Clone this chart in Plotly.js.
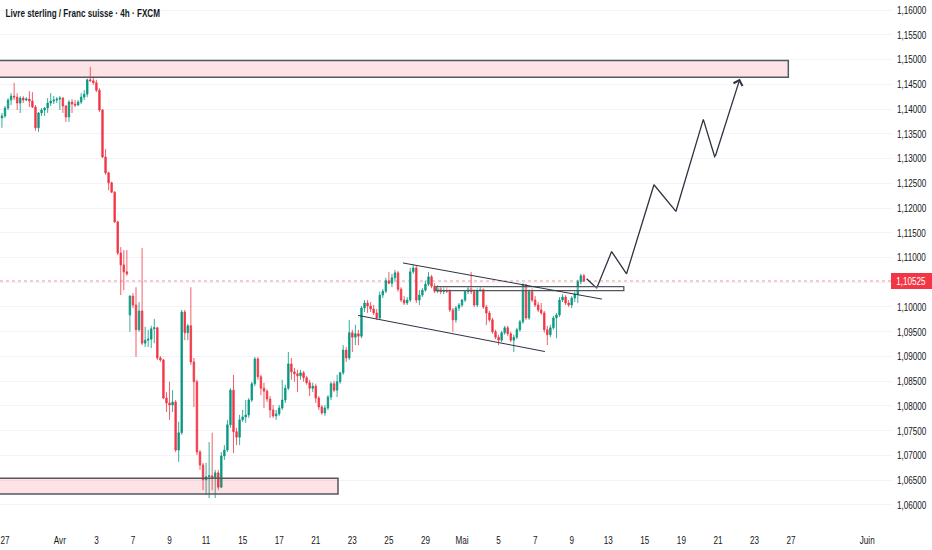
<!DOCTYPE html>
<html>
<head>
<meta charset="utf-8">
<script src="https://cdn.plot.ly/plotly-3.0.1.min.js"></script>
<style>
  html, body { margin: 0; padding: 0; background: #ffffff; }
  #chart { width: 932px; height: 550px; }
</style>
</head>
<body>
<div id="chart"></div>
<script>
// ---- Data (GBP/CHF, 4h candles) ----
const firstIndex = -1;  // candle index of the first (partly visible) bar; 0 = 27 March
const openP = [
  1.1382,1.1386,1.1402,1.1418,1.1426,1.1424,1.1412,1.1422,1.1418,1.1420,
  1.1416,1.1404,1.1362,1.1392,1.1398,1.1402,1.1412,1.1416,1.1418,1.1420,
  1.1422,1.1406,1.1384,1.1414,1.1410,1.1408,1.1414,1.1424,1.1430,1.1459,
  1.1457,1.1453,1.1438,1.1398,1.1303,1.1271,1.1251,1.1232,1.1172,1.1109,
  1.1085,1.1071,1.0984,1.1022,1.1004,1.0954,1.0992,1.0927,1.0933,1.0935,
  1.0956,1.0958,1.0897,1.0893,1.0816,1.0806,1.0802,1.0808,1.0711,1.0746,
  1.0990,1.0948,1.0962,1.0889,1.0849,1.0707,1.0681,1.0651,1.0657,1.0659,
  1.0655,1.0665,1.0636,1.0699,1.0711,1.0762,1.0832,1.0748,1.0737,1.0772,
  1.0778,1.0782,1.0812,1.0845,1.0895,1.0859,1.0836,1.0830,1.0814,1.0792,
  1.0780,1.0784,1.0796,1.0812,1.0836,1.0885,1.0869,1.0865,1.0861,1.0867,
  1.0857,1.0847,1.0836,1.0840,1.0816,1.0798,1.0786,1.0796,1.0818,1.0845,
  1.0832,1.0849,1.0867,1.0913,1.0897,1.0948,1.0939,1.0946,1.0941,1.0998,
  1.1008,1.1002,1.0996,1.0988,1.0978,1.1024,1.1032,1.1053,1.1048,1.1059,
  1.1069,1.1036,1.1014,1.1008,1.1014,1.1071,1.1079,1.1014,1.1024,1.1034,
  1.1046,1.1061,1.1042,1.1032,1.1038,1.1031,1.1034,1.1032,1.0994,1.0974,
  1.0998,1.1004,1.1014,1.1031,1.1038,1.1031,1.1004,1.1034,1.1036,1.1000,
  1.0988,1.0974,1.0950,1.0939,1.0933,1.0948,1.0958,1.0946,1.0933,1.0939,
  1.0954,1.0970,1.1045,1.0978,1.1031,1.1014,1.1004,1.0994,1.0988,1.0954,
  1.0944,1.0958,1.0978,1.0984,1.1014,1.1020,1.1008,1.1004,1.1018,1.1026,
  1.1051,1.1063
];
const highP = [
  1.1392,1.1406,1.1422,1.1432,1.1453,1.1432,1.1426,1.1426,1.1424,1.1436,
  1.1434,1.1408,1.1394,1.1402,1.1404,1.1422,1.1432,1.1426,1.1424,1.1426,
  1.1424,1.1408,1.1418,1.1420,1.1418,1.1418,1.1432,1.1438,1.1461,1.1485,
  1.1465,1.1459,1.1442,1.1400,1.1319,1.1273,1.1253,1.1234,1.1174,1.1121,
  1.1115,1.1115,1.1024,1.1028,1.1040,1.1010,1.1119,1.0960,1.0954,1.0962,
  1.0976,1.0960,1.0901,1.0895,1.0828,1.0849,1.0832,1.0812,1.0768,1.0994,
  1.0994,1.0966,1.1040,1.0897,1.0853,1.0711,1.0685,1.0685,1.0727,1.0746,
  1.0671,1.0671,1.0707,1.0721,1.0772,1.0836,1.0863,1.0756,1.0782,1.0792,
  1.0812,1.0816,1.0849,1.0899,1.0899,1.0863,1.0847,1.0834,1.0820,1.0802,
  1.0792,1.0802,1.0853,1.0843,1.0909,1.0897,1.0877,1.0873,1.0873,1.0871,
  1.0861,1.0853,1.0847,1.0845,1.0820,1.0802,1.0802,1.0822,1.0849,1.0851,
  1.0863,1.0869,1.0923,1.0919,1.0974,1.0954,1.0964,1.0954,1.1002,1.1014,
  1.1014,1.1010,1.1004,1.0996,1.1031,1.1036,1.1059,1.1071,1.1067,1.1075,
  1.1073,1.1040,1.1022,1.1020,1.1079,1.1085,1.1083,1.1034,1.1038,1.1053,
  1.1071,1.1065,1.1048,1.1044,1.1042,1.1040,1.1040,1.1036,1.0998,1.1002,
  1.1008,1.1016,1.1032,1.1042,1.1071,1.1036,1.1038,1.1042,1.1038,1.1004,
  1.0992,1.0978,1.0954,1.0944,1.0952,1.0962,1.0962,1.0950,1.0944,1.0958,
  1.0974,1.1048,1.1046,1.1036,1.1038,1.1022,1.1010,1.1008,1.0992,1.0962,
  1.0964,1.0982,1.0988,1.1020,1.1026,1.1024,1.1014,1.1022,1.1031,1.1055,
  1.1067,1.1067
];
const lowP = [
  1.1362,1.1382,1.1398,1.1408,1.1418,1.1398,1.1392,1.1412,1.1416,1.1404,
  1.1402,1.1356,1.1354,1.1386,1.1386,1.1392,1.1406,1.1410,1.1412,1.1398,
  1.1392,1.1374,1.1374,1.1392,1.1404,1.1406,1.1410,1.1418,1.1424,1.1455,
  1.1449,1.1434,1.1394,1.1301,1.1267,1.1236,1.1230,1.1170,1.1105,1.1024,
  1.1034,1.1063,1.0950,1.0998,1.0899,1.0950,1.0923,1.0919,1.0919,1.0917,
  1.0927,1.0893,1.0889,1.0814,1.0788,1.0772,1.0788,1.0707,1.0687,1.0742,
  1.0933,1.0933,1.0883,1.0798,1.0701,1.0671,1.0630,1.0620,1.0614,1.0630,
  1.0614,1.0630,1.0634,1.0691,1.0707,1.0756,1.0705,1.0721,1.0721,1.0768,
  1.0766,1.0776,1.0808,1.0840,1.0853,1.0822,1.0796,1.0808,1.0776,1.0776,
  1.0772,1.0780,1.0792,1.0806,1.0832,1.0853,1.0849,1.0828,1.0853,1.0849,
  1.0843,1.0820,1.0828,1.0806,1.0792,1.0782,1.0780,1.0792,1.0812,1.0828,
  1.0818,1.0845,1.0863,1.0889,1.0893,1.0909,1.0923,1.0923,1.0937,1.0990,
  1.0988,1.0990,1.0984,1.0974,1.0974,1.1018,1.1028,1.1046,1.1040,1.1051,
  1.1031,1.1010,1.1004,1.1004,1.1010,1.1067,1.1008,1.1004,1.1020,1.1031,
  1.1042,1.1038,1.1028,1.1028,1.1026,1.1026,1.1028,1.0990,1.0950,1.0968,
  1.0992,1.1000,1.1010,1.1026,1.1026,1.1000,1.1000,1.1031,1.0996,1.0964,
  1.0970,1.0946,1.0935,1.0923,1.0929,1.0944,1.0941,1.0929,1.0909,1.0935,
  1.0950,1.0966,1.0974,1.0974,1.1010,1.1000,1.0990,1.0984,1.0948,1.0923,
  1.0939,1.0954,1.0937,1.0980,1.1010,1.1004,1.1000,1.0998,1.1010,1.1008,
  1.1046,1.1051
];
const closeP = [
  1.1386,1.1402,1.1418,1.1426,1.1424,1.1412,1.1422,1.1418,1.1420,1.1416,
  1.1404,1.1362,1.1392,1.1398,1.1402,1.1412,1.1416,1.1418,1.1420,1.1422,
  1.1406,1.1384,1.1414,1.1410,1.1408,1.1414,1.1424,1.1430,1.1459,1.1457,
  1.1453,1.1438,1.1398,1.1303,1.1271,1.1251,1.1232,1.1172,1.1109,1.1085,
  1.1071,1.1067,1.1022,1.1004,1.0954,1.0992,1.0927,1.0933,1.0935,1.0956,
  1.0958,1.0897,1.0893,1.0816,1.0806,1.0802,1.0808,1.0711,1.0746,1.0990,
  1.0948,1.0962,1.0889,1.0849,1.0707,1.0681,1.0651,1.0657,1.0659,1.0655,
  1.0665,1.0636,1.0699,1.0711,1.0762,1.0832,1.0748,1.0737,1.0772,1.0778,
  1.0782,1.0812,1.0845,1.0895,1.0859,1.0836,1.0830,1.0814,1.0792,1.0780,
  1.0784,1.0796,1.0812,1.0836,1.0885,1.0869,1.0865,1.0861,1.0867,1.0857,
  1.0847,1.0836,1.0840,1.0816,1.0798,1.0786,1.0796,1.0818,1.0845,1.0832,
  1.0849,1.0867,1.0913,1.0897,1.0948,1.0939,1.0946,1.0941,1.0998,1.1008,
  1.1002,1.0996,1.0988,1.0978,1.1024,1.1032,1.1053,1.1048,1.1059,1.1069,
  1.1036,1.1014,1.1008,1.1014,1.1071,1.1079,1.1014,1.1024,1.1034,1.1046,
  1.1061,1.1042,1.1032,1.1038,1.1031,1.1034,1.1032,1.0994,1.0974,1.0998,
  1.1004,1.1014,1.1031,1.1038,1.1031,1.1004,1.1034,1.1036,1.1000,1.0988,
  1.0974,1.0950,1.0939,1.0933,1.0948,1.0958,1.0946,1.0933,1.0939,1.0954,
  1.0970,1.1045,1.0978,1.1031,1.1014,1.1004,1.0994,1.0988,1.0954,1.0944,
  1.0958,1.0978,1.0984,1.1014,1.1020,1.1008,1.1004,1.1018,1.1026,1.1051,
  1.1063,1.10525
];
const lastPrice = 1.10525;

// time axis: candle index of each label (6 candles per trading day)
const tickIdx  = [0, 18, 30, 42, 54, 66, 78, 90, 102, 114, 126, 138, 150, 162, 174, 186, 198, 210, 222, 234, 246, 258, 283];
const tickText = ['27','Avr','3','7','9','11','15','17','21','23','25','29','Mai','5','7','9','13','15','19','21','23','27','Juin'];

// drawings (in candle index / price)
const supplyZoneX = [-5, 257.1],  supplyZoneY = [1.1464, 1.1498];
const demandZoneX = [-5, 109.3],  demandZoneY = [1.0622, 1.0654];
const breakBoxX   = [141.5, 203.1], breakBoxY = [1.1033, 1.1041];
const channelTopX = [130.6, 195.9], channelTopY = [1.1089, 1.1016];
const channelBotX = [115.9, 177.2], channelBotY = [1.0983, 1.0910];
const pathX = [190.9, 194.2, 199.1, 204.0, 213.0, 220.2, 229.2, 233.0];
const pathY = [1.1057, 1.1038, 1.1112, 1.1067, 1.1247, 1.1193, 1.1379, 1.1302];
const arrowTip = [241.2, 1.1461];

const xIdx = openP.map((_, k) => k + firstIndex);

const UP = '#089981', DOWN = '#f23645', INK = '#131722', DRAW = '#2f3240';
const FONT = '"Liberation Sans", Arial, sans-serif';
const CONDENSE = 0.74;   // the reference uses a narrow face

const traces = [
  {
    type: 'candlestick',
    x: xIdx, open: openP, high: highP, low: lowP, close: closeP,
    increasing: { line: { color: 'rgba(8,153,129,0.8)', width: 1 }, fillcolor: UP },
    decreasing: { line: { color: 'rgba(242,54,69,0.8)', width: 1 }, fillcolor: DOWN },
    whiskerwidth: 0,
    hoverinfo: 'skip',
    showlegend: false
  },
  {
    type: 'scatter', mode: 'lines',
    x: pathX, y: pathY,
    line: { color: DRAW, width: 1.3 },
    hoverinfo: 'skip', showlegend: false
  }
];

const zoneLine = { color: '#55585f', width: 1.5 };
const shapes = [
  { type: 'line', xref: 'paper', yref: 'y', x0: 0, x1: 1, y0: lastPrice, y1: lastPrice,
    line: { color: 'rgba(242,54,69,0.55)', width: 1, dash: 'dot' }, layer: 'below' },
  { type: 'rect', xref: 'x', yref: 'y', x0: supplyZoneX[0], x1: supplyZoneX[1], y0: supplyZoneY[0], y1: supplyZoneY[1],
    fillcolor: 'rgba(242,54,69,0.14)', line: zoneLine, layer: 'above' },
  { type: 'rect', xref: 'x', yref: 'y', x0: demandZoneX[0], x1: demandZoneX[1], y0: demandZoneY[0], y1: demandZoneY[1],
    fillcolor: 'rgba(242,54,69,0.14)', line: zoneLine, layer: 'above' },
  { type: 'rect', xref: 'x', yref: 'y', x0: breakBoxX[0], x1: breakBoxX[1], y0: breakBoxY[0], y1: breakBoxY[1],
    fillcolor: 'rgba(255,255,255,0.35)', line: { color: '#55585f', width: 1.3 }, layer: 'above' },
  { type: 'line', xref: 'x', yref: 'y', x0: channelTopX[0], x1: channelTopX[1], y0: channelTopY[0], y1: channelTopY[1],
    line: { color: DRAW, width: 1 }, layer: 'above' },
  { type: 'line', xref: 'x', yref: 'y', x0: channelBotX[0], x1: channelBotX[1], y0: channelBotY[0], y1: channelBotY[1],
    line: { color: DRAW, width: 1 }, layer: 'above' },
  // red price tag on the scale
  { type: 'rect', xref: 'paper', yref: 'y', x0: 1, x1: 1.05, y0: lastPrice - 0.0016, y1: lastPrice + 0.0016,
    fillcolor: DOWN, line: { width: 0 }, layer: 'above' }
];

const annotations = [
  { xref: 'x', yref: 'y', axref: 'x', ayref: 'y',
    x: arrowTip[0], y: arrowTip[1], ax: pathX[pathX.length - 1], ay: pathY[pathY.length - 1],
    text: '', showarrow: true, arrowhead: 4, arrowsize: 1.4, arrowwidth: 1.3, arrowcolor: DRAW },
  { xref: 'paper', yref: 'y', x: 1, xanchor: 'center', xshift: 20, y: lastPrice, yanchor: 'middle',
    text: lastPrice.toFixed(5).replace('.', ','), showarrow: false,
    font: { color: '#ffffff', size: 11, family: FONT } }
];

const layout = {
  width: 932, height: 550,
  margin: { l: 0, r: 41, t: 0, b: 26, pad: 0 },
  paper_bgcolor: '#ffffff', plot_bgcolor: '#ffffff',
  separators: ', ',
  showlegend: false,
  hovermode: false,
  font: { family: FONT, color: INK, size: 11 },
  title: {
    text: 'Livre sterling / Franc suisse · 4h · FXCM',
    xref: 'container', yref: 'container',
    x: 0.006, xanchor: 'left', y: 0.976, yanchor: 'middle',
    font: { family: FONT, size: 11, color: INK, weight: 700 }
  },
  xaxis: {
    range: [-1.64, 290.8],
    tickmode: 'array', tickvals: tickIdx, ticktext: tickText,
    showgrid: false, zeroline: false, showline: false, ticks: '',
    tickfont: { family: FONT, size: 11, color: INK },
    ticklabelstandoff: 8,
    ticklabeloverflow: 'allow',
    rangeslider: { visible: false },
    fixedrange: true
  },
  yaxis: {
    side: 'right',
    range: [1.05616, 1.16202],
    tick0: 1.06, dtick: 0.005, tickformat: '.5f',
    showgrid: true, gridcolor: '#f0f3fa', gridwidth: 1,
    zeroline: false, showline: false, ticks: '',
    tickfont: { family: FONT, size: 11, color: INK },
    ticklabelstandoff: 5,
    ticklabeloverflow: 'allow',
    fixedrange: true
  },
  shapes: shapes,
  annotations: annotations
};

// narrow the text horizontally (the reference uses a condensed face)
function condense(gd) {
  const squeeze = (el) => {
    const ox = parseFloat(el.getAttribute('x')) || 0;
    const t = el.getAttribute('transform') || '';
    el.setAttribute('transform', (t + ' translate(' + ox + ',0) scale(' + CONDENSE + ',1) translate(' + (-ox) + ',0)').trim());
  };
  gd.querySelectorAll('.xtick text, .ytick text, text.gtitle, text.annotation-text').forEach(squeeze);
}

Plotly.newPlot('chart', traces, layout, { displayModeBar: false, staticPlot: true })
  .then(gd => condense(gd));
</script>
</body>
</html>
